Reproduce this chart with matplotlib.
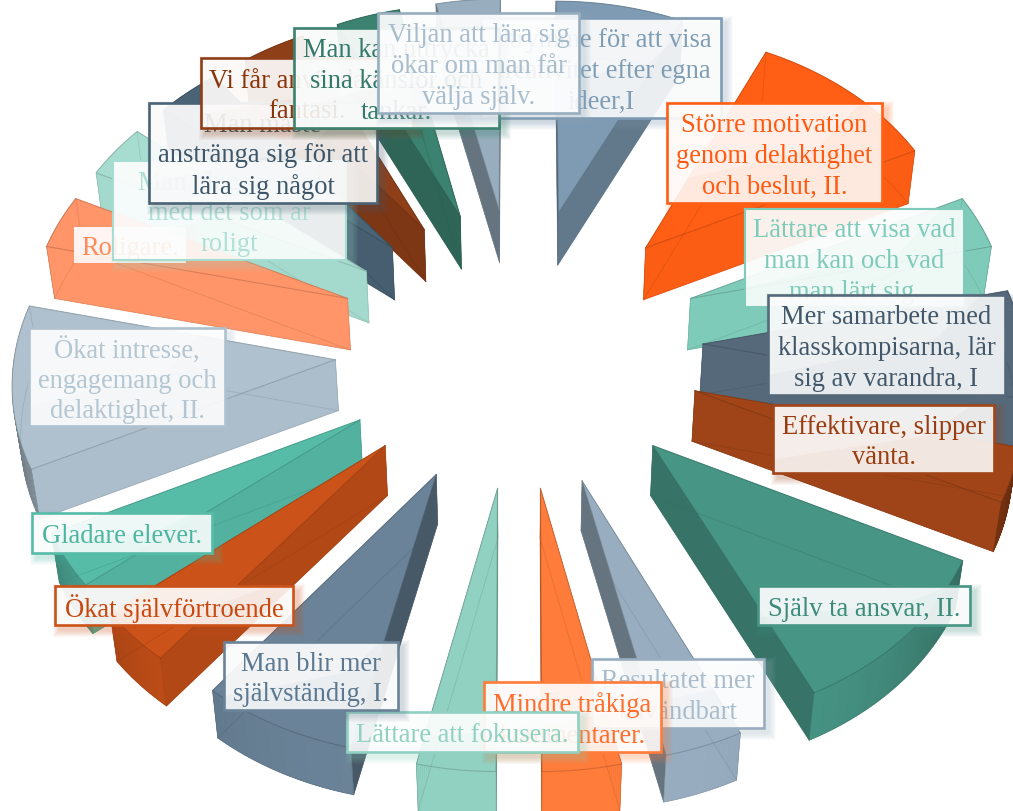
import numpy as np
import matplotlib
matplotlib.use("Agg")
import matplotlib.pyplot as plt
from matplotlib.colors import to_rgb
from matplotlib.patches import Polygon, Rectangle

# slices clockwise from 12 o'clock
values = [2, 3, 1, 2, 1, 3, 1, 1, 1, 2, 1, 1, 3, 1, 1, 1, 1, 1, 1]
labels = [
    "Utrymme för att visa\nkreativitet efter egna\nideer,I",
    "Större motivation\ngenom delaktighet\noch beslut, II.",
    "Lättare att visa vad\nman kan och vad\nman lärt sig.",
    "Mer samarbete med\nklasskompisarna, lär\nsig av varandra, I",
    "Effektivare, slipper\nvänta.",
    "Själv ta ansvar, II.",
    "Resultatet mer\nanvändbart",
    "Mindre tråkiga\nkommentarer.",
    "Lättare att fokusera.",
    "Man blir mer\nsjälvständig, I.",
    "Ökat självförtroende",
    "Gladare elever.",
    "Ökat intresse,\nengagemang och\ndelaktighet, II.",
    "Roligare.",
    "Man pluggar mer\nmed det som är\nroligt",
    "Man måste\nanstränga sig för att\nlära sig något",
    "Vi får använda vår\nfantasi.",
    "Man kan uttrycka\nsina känslor och\ntankar.",
    "Viljan att lära sig\nökar om man får\nvälja själv.",
]
colors = ["#7f9bb3", "#ff5e14", "#7fcbb9", "#55697b", "#a14518", "#479585",
          "#98aec0", "#ff7c3a", "#90d1c1", "#6a8398", "#cb5219", "#56bca8",
          "#afc1ce", "#ff9568", "#a6ddd0", "#4a6375", "#8f3f18", "#3c8270",
          "#98aebf"]
text_colors = ["#7f9db5", "#ff5a10", "#7fcbb9", "#42586a", "#993c10", "#3c8b7b",
               "#a9bccb", "#ff6e2c", "#90d1c1", "#5b7890", "#c8480e", "#4cb5a0",
               "#b4c6d2", "#ff8a58", "#b0e0d5", "#3e5668", "#8a3509", "#33796a",
               "#a9bdcc"]
# left, top, right, bottom of each label in pixels
boxes = [(481, 18, 721, 118), (667, 103, 882, 203), (745, 209, 964, 307),
         (768, 295, 1005, 395), (773, 405, 994, 473), (758, 586, 970, 625),
         (592, 659, 764, 728), (484, 682, 661, 752), (347, 712, 578, 752),
         (224, 642, 398, 710), (55, 586, 293, 625), (32, 513, 212, 553),
         (29, 328, 225, 426), (74, 227, 186, 263), (113, 161, 346, 260),
         (149, 103, 377, 203), (201, 58, 413, 128), (294, 28, 499, 128),
         (378, 13, 579, 113)]
border_widths = [1.9, 1.9, 1.5, 1.9, 1.9, 1.9, 1.9, 1.9, 1.9, 1.9, 1.9, 1.9,
                 1.9, 0, 1.5, 1.9, 1.9, 1.9, 1.9]

# view of the pie
cx, cy = 519, 344
rx, ry = 320, 243
persp = 0.068
explode = 0.575
height = 51


def project(px, py, bottom=False):
    w = 1 + persp * py
    u = rx * px / w
    v = -ry * py / w
    if bottom:
        return cx + u * 0.983, cy + height + v * 0.99
    return cx + u, cy + v


def shade(col, a, b):
    d = np.array(b) - np.array(a)
    f = 1 - 0.38 * (abs(d[1]) / (np.hypot(*d) + 1e-9)) ** 3
    return tuple(np.array(to_rgb(col)) * f)


fig = plt.figure(figsize=(10.13, 8.11), dpi=100)
ax = fig.add_axes([0, 0, 1, 1])
ax.set_xlim(0, 1013)
ax.set_ylim(811, 0)
ax.axis("off")

unit = 2 * np.pi / sum(values)
edges = np.cumsum([0] + values) * unit
order = sorted(range(len(values)), key=lambda i: -np.cos((edges[i] + edges[i + 1]) / 2))

for z, i in enumerate(order):
    t = np.linspace(edges[i], edges[i + 1], 40)
    mid = (edges[i] + edges[i + 1]) / 2
    ox, oy = explode * np.sin(mid), explode * np.cos(mid)
    px = np.r_[ox, ox + np.sin(t)]
    py = np.r_[oy, oy + np.cos(t)]
    top = np.array([project(a, b) for a, b in zip(px, py)])
    bot = np.array([project(a, b, True) for a, b in zip(px, py)])
    n = len(top)
    base = z * 0.01 + 1
    ax.add_patch(Polygon(bot, fc=colors[i], ec="none", zorder=base))
    walls = []
    for j in range(n):
        k = (j + 1) % n
        quad = np.array([top[j], top[k], bot[k], bot[j]])
        walls.append((quad, shade(colors[i], top[j], top[k])))
    # back walls first so the front ones cover them
    walls.sort(key=lambda w: w[0][:, 1].mean())
    for quad, fc in walls:
        ax.add_patch(Polygon(quad, fc=fc, ec=fc, lw=0.3, zorder=base + 0.001))
    ax.add_patch(Polygon(top, fc=colors[i], ec="none", zorder=base + 0.002))
    # outlines, the hidden ones show faintly through the glassy slices
    dark = tuple(np.array(to_rgb(colors[i])) * 0.72)
    ax.plot(*np.r_[top, top[:1]].T, color=dark, lw=0.8, alpha=0.55, zorder=base + 0.003)
    ax.plot(*np.r_[bot, bot[:1]].T, color=dark, lw=0.7, alpha=0.3, zorder=base + 0.003)
    for j in (0, 1, n - 1):
        ax.plot([top[j, 0], bot[j, 0]], [top[j, 1], bot[j, 1]], color=dark, lw=0.7,
                alpha=0.3, zorder=base + 0.003)

for i, (lab, (l, t, r, b)) in enumerate(zip(labels, boxes)):
    z = 10 + i
    w, h = r - l, b - t
    for grow in range(1, 8):
        ax.add_patch(Rectangle((l + 5 - grow, t + 5 - grow), w + 2 * grow, h + 2 * grow,
                               fc=colors[i], ec="none", alpha=0.045, zorder=z))
    ax.add_patch(Rectangle((l, t), w, h, fc="white", ec="none", alpha=0.87, zorder=z + 0.1))
    # glassy reflection across the upper left of the box
    gloss = [(l, t), (l + 0.9 * w, t), (l + 0.7 * w, t + 0.45 * h), (l, t + 0.8 * h)]
    ax.add_patch(Polygon(gloss, fc="white", ec="none", alpha=0.3, zorder=z + 0.15))
    if border_widths[i] > 0:
        ax.add_patch(Rectangle((l, t), w, h, fc="none", ec=colors[i], lw=border_widths[i],
                               zorder=z + 0.2))
    ax.text((l + r) / 2, (t + b) / 2 + 3.5, lab, ha="center", va="center", ma="center",
            family="Liberation Serif", fontsize=19.1, linespacing=1.29,
            color=text_colors[i], zorder=z + 0.3, clip_on=True)

fig.savefig("out.png", dpi=100)
